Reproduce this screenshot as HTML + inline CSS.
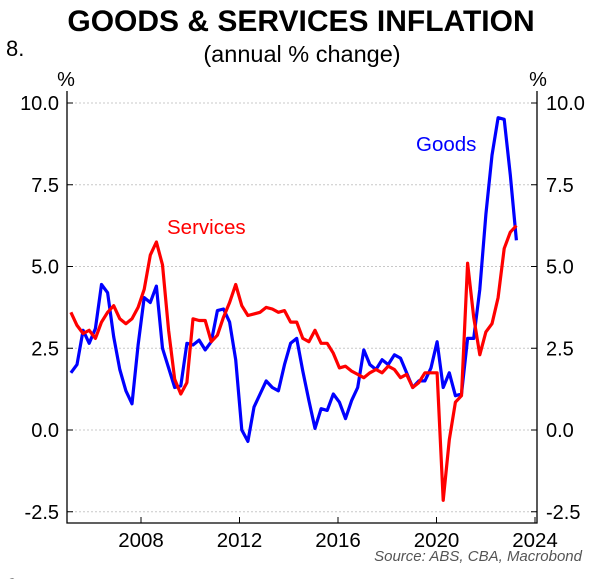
<!DOCTYPE html>
<html><head><meta charset="utf-8"><style>
html,body{margin:0;padding:0;background:#fff;overflow:hidden;}
svg{display:block;font-family:"Liberation Sans",sans-serif;}
</style></head><body>
<svg id="chart" width="601" height="579" viewBox="0 0 601 579">
<text x="301" y="31" text-anchor="middle" font-size="30" font-weight="bold">GOODS &amp; SERVICES INFLATION</text>
<text x="302" y="62" text-anchor="middle" font-size="23.5">(annual % change)</text>
<text x="6" y="56" font-size="22">8.</text>
<text x="6" y="594" font-size="22">9.</text>
<text x="66" y="86" text-anchor="middle" font-size="20">%</text>
<text x="538" y="86" text-anchor="middle" font-size="20">%</text>
<g id="grid"></g>
<g id="axes"></g>
<g id="series"></g>
<text x="416" y="151" font-size="20.5" fill="#0000ff">Goods</text>
<text x="167" y="234" font-size="20.5" fill="#ff0000">Services</text>
<text x="582" y="561" text-anchor="end" font-size="15" font-style="italic" fill="#555">Source: ABS, CBA, Macrobond</text>
</svg>
<script>
const goods = [1.75,2.0,3.05,2.65,3.1,4.45,4.2,2.85,1.85,1.2,0.8,2.6,4.05,3.9,4.4,2.5,1.9,1.3,1.35,2.65,2.6,2.75,2.45,2.7,
3.65,3.7,3.3,2.15,0.0,-0.35,0.7,1.1,1.5,1.3,1.2,2.0,2.65,2.8,1.8,0.9,0.05,0.65,0.6,1.1,0.85,0.35,0.9,1.3,2.45,2.0,1.85,2.15,2.0,2.3,2.2,1.75,1.3,1.5,1.5,1.9,
2.7,1.3,1.75,1.05,1.1,2.8,2.8,4.3,6.6,8.4,9.55,9.5,7.8,5.8];
const services = [3.6,3.2,2.95,3.05,2.8,3.3,3.6,3.8,3.4,3.25,3.4,3.75,4.3,5.35,5.75,5.05,3.05,1.55,1.1,1.45,3.4,3.35,3.35,2.7,
2.9,3.45,3.9,4.45,3.8,3.5,3.55,3.6,3.75,3.7,3.6,3.65,3.3,3.3,2.8,2.7,3.05,2.65,2.65,2.35,1.9,1.95,1.8,1.7,1.6,1.75,1.85,1.75,1.95,1.85,1.6,1.7,1.3,1.45,1.75,1.75,
1.75,-2.15,-0.3,0.85,1.05,5.1,3.45,2.3,3.0,3.25,4.05,5.55,6.05,6.25];
const yTicks = [10.0,7.5,5.0,2.5,0.0,-2.5];
const xTicks = [2008,2012,2016,2020,2024];
const startYear = 2005.155, stepYear = 0.2478;

const NS="http://www.w3.org/2000/svg";
const L=67,R=537,T=91,B=523;
function xs(t){return 141+(t-2008)*24.625;}
function ys(v){return 430-v*32.7;}
function mk(tag,attrs,parent){const e=document.createElementNS(NS,tag);for(const k in attrs)e.setAttribute(k,attrs[k]);parent.appendChild(e);return e;}
const grid=document.getElementById('grid'),axes=document.getElementById('axes'),ser=document.getElementById('series');
yTicks.forEach(v=>{
  const y=ys(v);
  const g=mk('line',{x1:L,x2:R,y1:y,y2:y,stroke:'#c8c8c8','stroke-width':1,'stroke-dasharray':'2,2'},grid);
  
  
  const t1=mk('line',{x1:L,x2:L+6,y1:y,y2:y,stroke:'#000','stroke-width':1},axes);
  
  
  const t2=mk('line',{x1:R-6,x2:R,y1:y,y2:y,stroke:'#000','stroke-width':1},axes);
  
  
  const lab=mk('text',{x:59,y:y+7,'text-anchor':'end','font-size':20},axes);
  lab.textContent=v.toFixed(1);
  
  
  const lab2=mk('text',{x:546,y:y+7,'font-size':20},axes);
  lab2.textContent=v.toFixed(1);
  
  
});
xTicks.forEach(yr=>{
  const x=xs(yr);
  const t=mk('line',{x1:x,x2:x,y1:B,y2:B-6,stroke:'#000','stroke-width':1},axes);
  
  
  const lab=mk('text',{x:x,y:547,'text-anchor':'middle','font-size':20.5},axes);
  lab.textContent=yr;
  
  
});
const frame=mk('path',{d:`M${L},${T}V${B}H${R}V${T}`,fill:'none',stroke:'#000','stroke-width':1.3},axes);


function line(vals,color,name){
  const d=vals.map((v,i)=>(i?'L':'M')+xs(startYear+i*stepYear).toFixed(1)+','+ys(v).toFixed(1)).join('');
  const p=mk('path',{d:d,fill:'none',stroke:color,'stroke-width':3.2,'stroke-linejoin':'round'},ser);
  
  
}
line(goods,'#0000ff','goods-line');
line(services,'#ff0000','services-line');
</script>
</body></html>
